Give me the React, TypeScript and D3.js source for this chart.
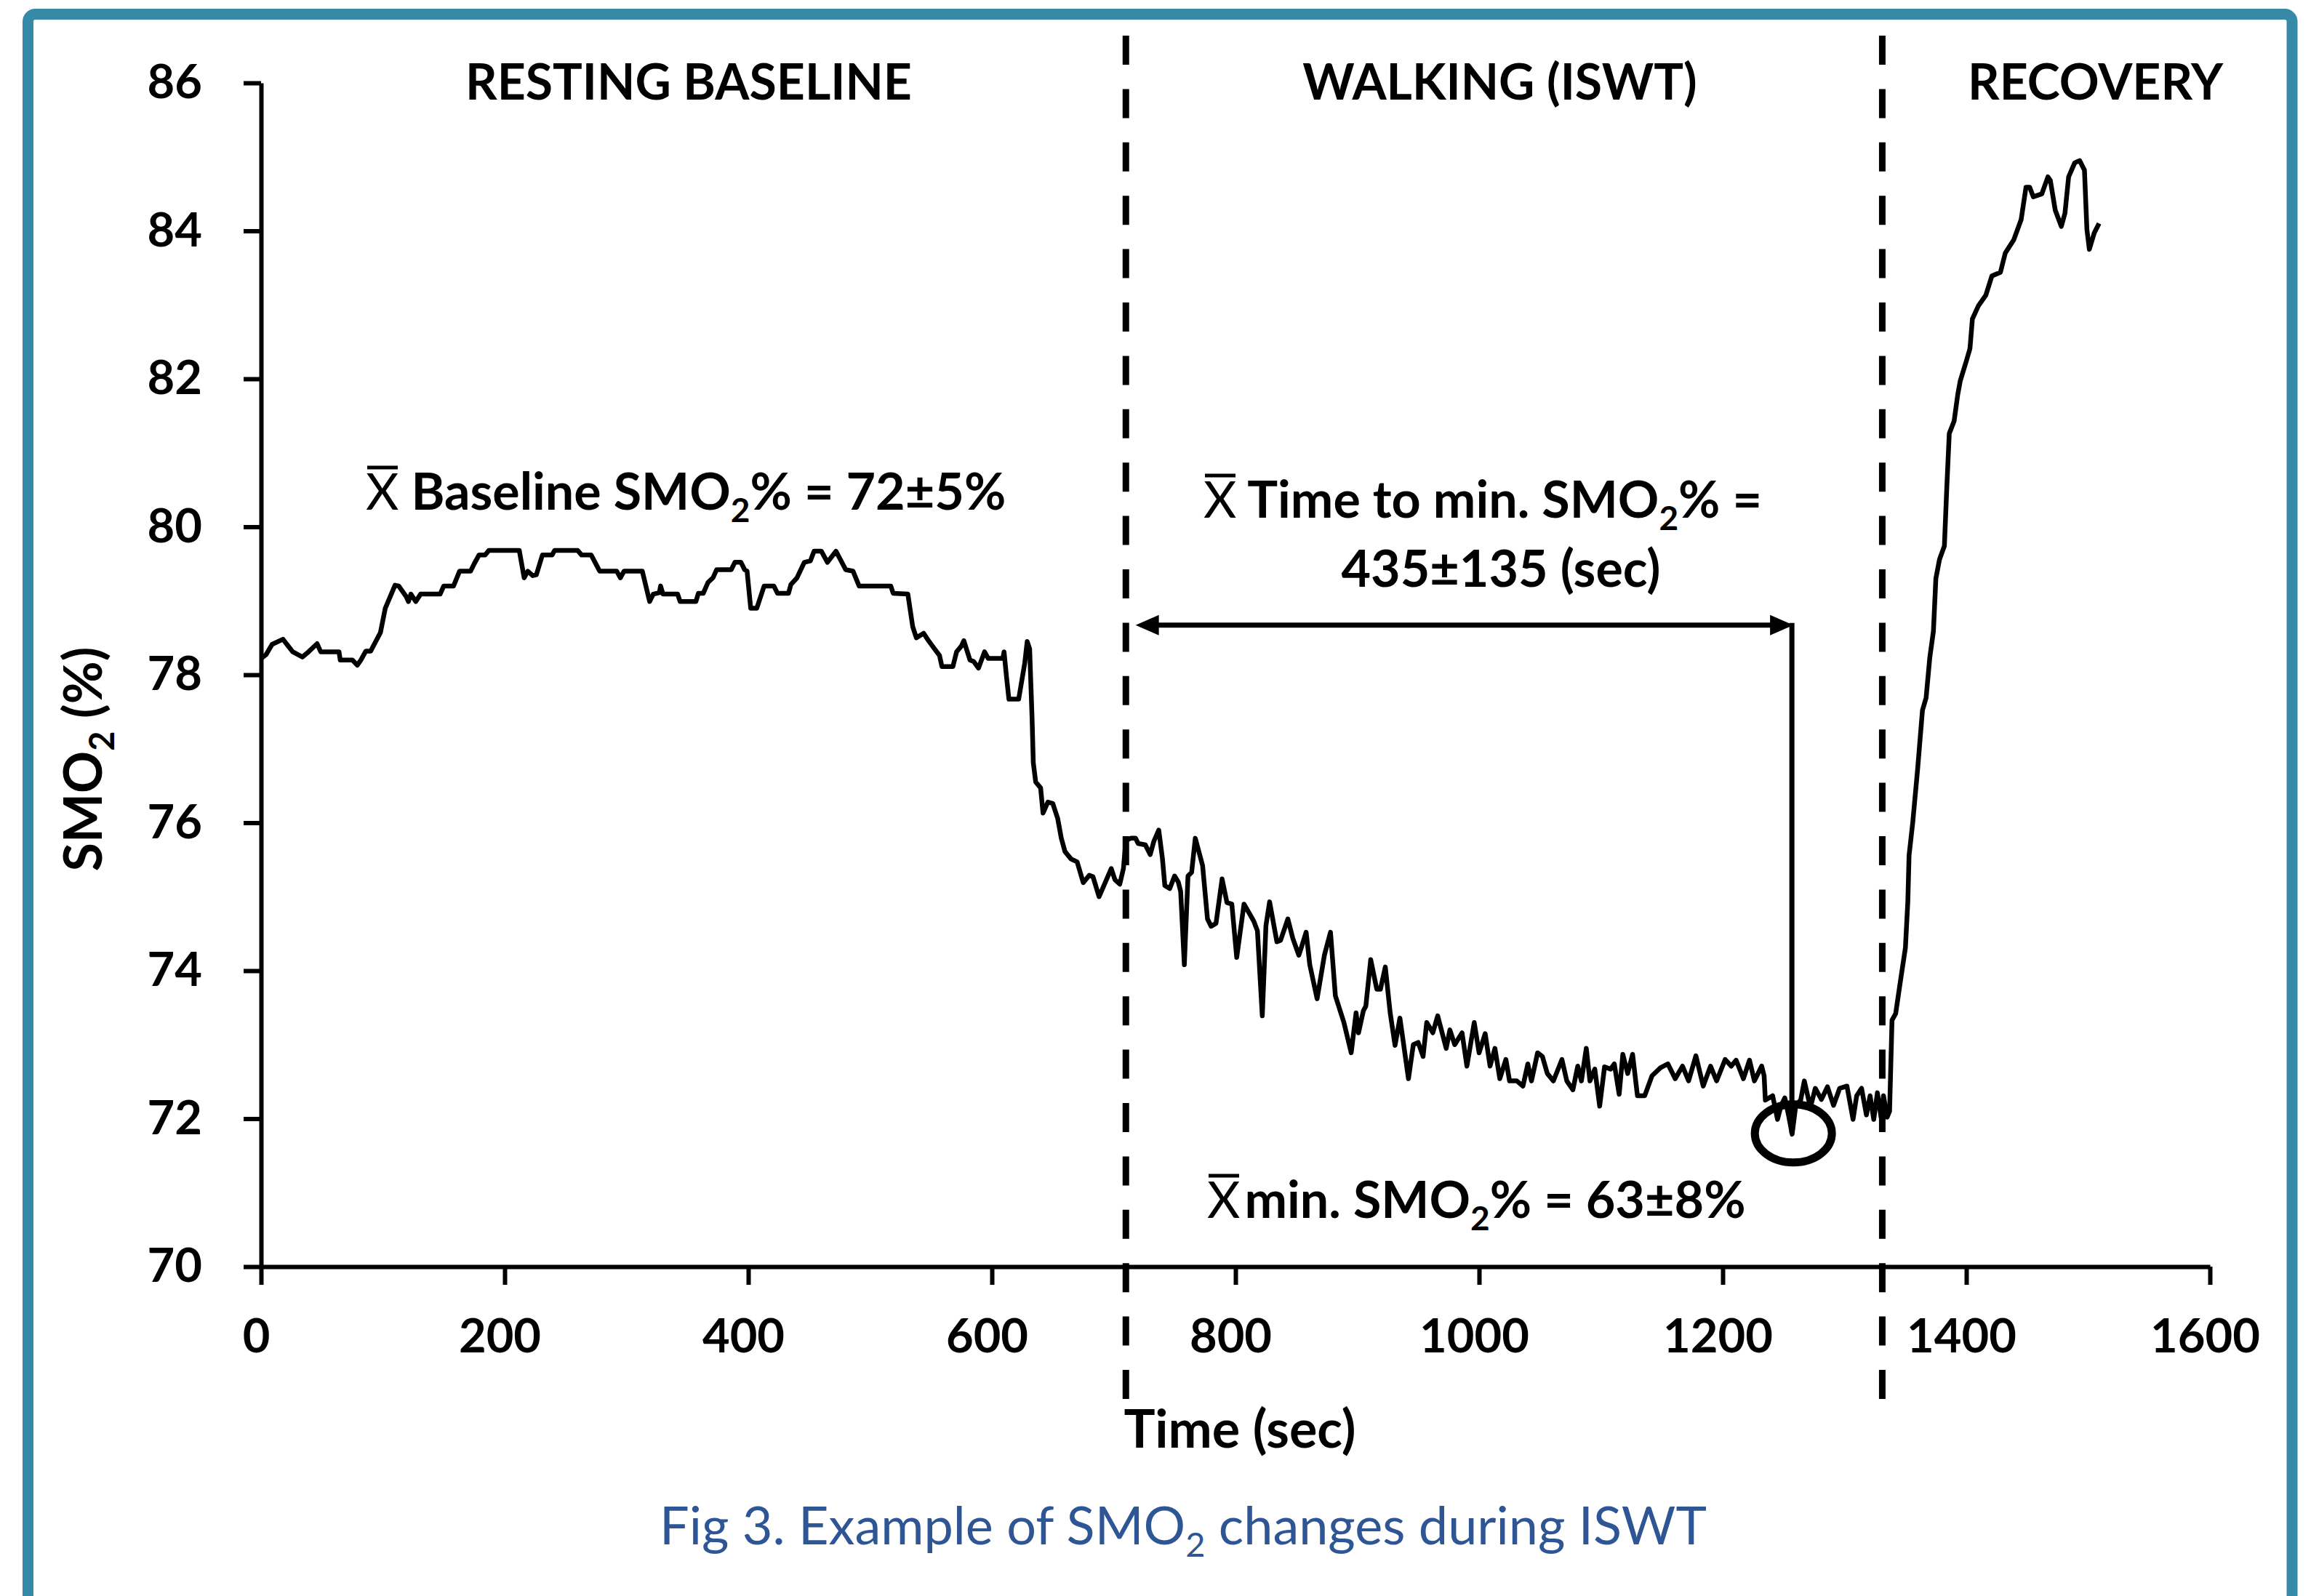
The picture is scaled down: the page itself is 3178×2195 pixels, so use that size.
import React, { useEffect, useRef } from 'react'
import * as d3 from 'd3'

// SmO2 trace: time (sec) and SmO2 (%)
const restTime = [0, 4, 9, 18, 26, 34, 39, 46, 49, 64, 65, 75, 79, 82, 86, 90, 98, 102, 110, 113, 119, 121, 123, 127, 131, 147, 150, 158, 163, 172, 175, 179, 184, 187, 212, 216, 219, 223, 226, 231, 239, 241, 260, 263, 271, 278, 292, 295, 298, 313, 319, 322, 327, 328, 330, 342, 344, 357, 359, 363, 367, 371, 374, 386, 389, 394, 397, 399, 402, 407, 413, 421, 424, 433, 435, 440, 446, 451, 454, 460, 465, 472, 480, 486, 491, 517, 519, 531, 535, 538, 542, 544, 548, 552, 557, 559, 568, 571, 575, 577, 582, 585, 589, 594, 597, 609, 610, 612, 614, 622, 627, 629, 631, 633, 634, 636, 640, 642, 646, 650, 654, 657, 660, 665, 670, 675, 680, 683, 688, 693, 698, 701, 705, 708]
const restSmo2 = [78.22, 78.27, 78.41, 78.48, 78.31, 78.24, 78.31, 78.42, 78.31, 78.31, 78.2, 78.2, 78.13, 78.2, 78.32, 78.32, 78.57, 78.9, 79.21, 79.2, 79.06, 78.99, 79.09, 78.99, 79.09, 79.09, 79.2, 79.2, 79.4, 79.4, 79.5, 79.62, 79.62, 79.68, 79.68, 79.31, 79.4, 79.34, 79.35, 79.62, 79.62, 79.68, 79.68, 79.62, 79.62, 79.4, 79.4, 79.31, 79.4, 79.4, 78.99, 79.09, 79.11, 79.2, 79.09, 79.09, 78.99, 78.99, 79.1, 79.1, 79.25, 79.31, 79.42, 79.42, 79.52, 79.52, 79.42, 79.4, 78.9, 78.9, 79.2, 79.2, 79.1, 79.1, 79.22, 79.31, 79.52, 79.54, 79.67, 79.67, 79.52, 79.67, 79.42, 79.4, 79.2, 79.2, 79.1, 79.09, 78.65, 78.5, 78.54, 78.56, 78.46, 78.37, 78.26, 78.11, 78.11, 78.31, 78.39, 78.46, 78.2, 78.18, 78.09, 78.31, 78.22, 78.22, 78.31, 77.97, 77.67, 77.67, 78.16, 78.45, 78.35, 77.41, 76.81, 76.55, 76.47, 76.13, 76.28, 76.26, 76.06, 75.79, 75.61, 75.51, 75.47, 75.19, 75.29, 75.27, 75.0, 75.19, 75.38, 75.23, 75.17, 75.38]

const walkTime = [710, 714, 718, 720, 726, 730, 733, 737, 740, 742, 746, 750, 753, 755, 758, 761, 764, 767, 773, 777, 780, 784, 789, 793, 797, 801, 807, 815, 818, 822, 825, 828, 834, 837, 843, 847, 852, 854, 858, 861, 867, 873, 878, 882, 889, 895, 899, 901, 905, 907, 911, 916, 919, 923, 927, 931, 935, 942, 946, 950, 954, 957, 962, 966, 973, 976, 980, 986, 990, 996, 1000, 1005, 1009, 1013, 1017, 1022, 1025, 1031, 1036, 1040, 1043, 1048, 1052, 1056, 1061, 1068, 1072, 1077, 1081, 1084, 1088, 1091, 1095, 1099, 1103, 1108, 1111, 1115, 1118, 1122, 1126, 1130, 1136, 1142, 1149, 1155, 1161, 1167, 1172, 1178, 1184, 1190, 1195, 1202, 1207, 1211, 1217, 1222, 1226, 1232, 1234, 1235, 1241, 1245, 1248, 1251, 1254, 1257, 1260, 1264, 1267, 1272, 1276, 1281, 1286, 1291, 1296, 1302, 1307, 1310, 1314, 1318, 1321, 1324, 1327, 1330]
const walkSmo2 = [75.76, 75.79, 75.79, 75.72, 75.7, 75.57, 75.75, 75.9, 75.52, 75.15, 75.11, 75.28, 75.2, 75.07, 74.08, 75.28, 75.33, 75.79, 75.42, 74.7, 74.6, 74.64, 75.24, 74.92, 74.9, 74.18, 74.9, 74.67, 74.54, 73.39, 74.61, 74.93, 74.39, 74.41, 74.7, 74.44, 74.21, 74.31, 74.52, 74.08, 73.62, 74.21, 74.52, 73.66, 73.3, 72.89, 73.43, 73.16, 73.46, 73.52, 74.15, 73.75, 73.75, 74.05, 73.43, 72.99, 73.36, 72.54, 73.0, 73.03, 72.84, 73.3, 73.16, 73.39, 72.95, 73.2, 73.0, 73.16, 72.71, 73.3, 72.89, 73.15, 72.71, 72.95, 72.54, 72.8, 72.51, 72.51, 72.44, 72.74, 72.51, 72.89, 72.84, 72.61, 72.51, 72.8, 72.51, 72.39, 72.71, 72.51, 72.95, 72.51, 72.67, 72.17, 72.7, 72.67, 72.74, 72.33, 72.87, 72.61, 72.87, 72.31, 72.31, 72.58, 72.69, 72.74, 72.54, 72.71, 72.51, 72.85, 72.44, 72.71, 72.51, 72.8, 72.71, 72.79, 72.54, 72.79, 72.51, 72.71, 72.58, 72.25, 72.31, 71.99, 72.18, 72.28, 72.05, 71.79, 72.18, 72.25, 72.51, 72.15, 72.41, 72.26, 72.43, 72.18, 72.41, 72.44, 71.99, 72.31, 72.41, 72.05, 72.31, 71.99, 72.35, 72.02]

const recTime = [1332, 1335, 1337, 1339, 1342, 1346, 1350, 1352, 1353, 1356, 1360, 1364, 1367, 1370, 1373, 1375, 1378, 1382, 1384, 1386, 1390, 1393, 1395, 1400, 1403, 1405, 1410, 1416, 1421, 1428, 1432, 1439, 1445, 1449, 1452, 1455, 1462, 1467, 1469, 1473, 1478, 1481, 1484, 1489, 1493, 1497, 1499, 1501, 1505, 1509]
const recSmo2 = [72.31, 72.02, 72.1, 73.33, 73.42, 73.87, 74.31, 74.94, 75.56, 76.0, 76.72, 77.52, 77.69, 78.23, 78.59, 79.3, 79.56, 79.74, 80.54, 81.26, 81.43, 81.79, 81.97, 82.24, 82.41, 82.81, 82.99, 83.13, 83.39, 83.44, 83.7, 83.88, 84.15, 84.59, 84.59, 84.46, 84.5, 84.73, 84.68, 84.28, 84.06, 84.24, 84.73, 84.92, 84.95, 84.82, 84.02, 83.75, 83.97, 84.1]

const xTicks = [0, 200, 400, 600, 800, 1000, 1200, 1400, 1600]
const yTicks = [70, 72, 74, 76, 78, 80, 82, 84, 86]

const phaseEdges = [710, 1331]
const phaseNames = ['RESTING BASELINE', 'WALKING (ISWT)', 'RECOVERY']
const minPoint = { t: 1258, v: 71.8 }
const arrowFrom = 718
const arrowLevel = 78.67

// layout
const W = 3178
const H = 2195
const left = 359
const right = 3039
const top = 114
const bottom = 1742
const phaseLabelAt = [351, 1017, 1506]
const font = 'Lato, "Open Sans", sans-serif'
const frameColor = '#368aa8'
const captionColor = '#2e5594'
const noteSize = 70

export default function App() {
  const xAxisRef = useRef<SVGGElement>(null)
  const yAxisRef = useRef<SVGGElement>(null)

  const x = d3.scaleLinear().domain([0, 1600]).range([left, right])
  const y = d3.scaleLinear().domain([70, 86]).range([bottom, top])

  const series = [
    ...d3.zip(restTime, restSmo2),
    ...d3.zip(walkTime, walkSmo2),
    ...d3.zip(recTime, recSmo2),
  ]
  const line = d3.line<number[]>().x(d => x(d[0])).y(d => y(d[1]))

  useEffect(() => {
    const gx = d3.select(xAxisRef.current!)
    gx.call(
      d3.axisBottom(x).tickValues(xTicks).tickFormat(d3.format('d')).tickSize(25).tickSizeOuter(0).tickPadding(47)
    )
    gx.attr('font-family', font).attr('font-size', 65).attr('font-weight', 700)
    gx.selectAll('.domain, .tick line').attr('stroke', '#000').attr('stroke-width', 6)
    gx.selectAll('.tick text').attr('dx', -7).attr('fill', '#000')

    const gy = d3.select(yAxisRef.current!)
    gy.call(d3.axisLeft(y).tickValues(yTicks).tickSize(24).tickSizeOuter(0).tickPadding(57))
    gy.attr('font-family', font).attr('font-size', 65).attr('font-weight', 700)
    gy.selectAll('.domain, .tick line').attr('stroke', '#000').attr('stroke-width', 6)
    gy.selectAll('.tick text').attr('fill', '#000')
  }, [])

  const ax0 = x(arrowFrom)
  const ax1 = x(minPoint.t)
  const ay = y(arrowLevel)
  const head = 32
  const half = 14

  const xbar = (x0: number, base: number) => (
    <line x1={x0 + 2} x2={x0 + 44} y1={base - 58} y2={base - 58} stroke="#000" strokeWidth={5} />
  )
  const sub = { fontSize: 46, dy: 17 }

  return (
    <svg width={W} height={H} style={{ position: 'absolute', left: 0, top: 0, background: '#fff' }} fontFamily={font}>
      <rect x={38.5} y={19.5} width={3113.5} height={2400} rx={10} fill="#fff" stroke={frameColor} strokeWidth={15} />

      {phaseEdges.map(t => (
        <line key={t} x1={x(t)} x2={x(t)} y1={49} y2={1926} stroke="#000" strokeWidth={9} strokeDasharray="40 33.4" />
      ))}

      <g ref={xAxisRef} transform={`translate(0,${bottom})`} />
      <g ref={yAxisRef} transform={`translate(${left},0)`} />

      <path d={line(series) ?? ''} fill="none" stroke="#000" strokeWidth={6.5} strokeLinejoin="round" />

      {phaseNames.map((name, i) => (
        <text key={name} x={x(phaseLabelAt[i])} y={137} textAnchor="middle" fontSize={68} fontWeight={700}>
          {name}
        </text>
      ))}

      {/* time-to-minimum arrow */}
      <line x1={ax0 + head - 4} x2={ax1 - head + 4} y1={ay} y2={ay} stroke="#000" strokeWidth={7} />
      <polygon points={`${ax0},${ay} ${ax0 + head},${ay - half} ${ax0 + head},${ay + half}`} fill="#000" />
      <polygon points={`${ax1},${ay} ${ax1 - head},${ay - half} ${ax1 - head},${ay + half}`} fill="#000" />
      <line x1={ax1 - 2} x2={ax1 - 2} y1={ay - 3} y2={y(minPoint.v)} stroke="#000" strokeWidth={7} />
      <ellipse cx={x(minPoint.t)} cy={y(minPoint.v)} rx={53} ry={40} fill="none" stroke="#000" strokeWidth={11} />

      {/* annotations */}
      {xbar(503, 701)}
      <text x={503} y={701} fontSize={noteSize} fontWeight={700}>
        <tspan fontWeight={400}>X</tspan>
        <tspan>{' Baseline SMO'}</tspan>
        <tspan fontSize={sub.fontSize} dy={sub.dy}>2</tspan>
        <tspan dy={-sub.dy}>{'% = 72±5%'}</tspan>
      </text>

      {xbar(1655, 712)}
      <text x={1655} y={712} fontSize={noteSize} fontWeight={700}>
        <tspan fontWeight={400}>X</tspan>
        <tspan>{' Time to min. SMO'}</tspan>
        <tspan fontSize={sub.fontSize} dy={sub.dy}>2</tspan>
        <tspan dy={-sub.dy}>{'% ='}</tspan>
      </text>
      <text x={2064} y={807} fontSize={noteSize} fontWeight={700} textAnchor="middle">
        435±135 (sec)
      </text>

      {xbar(1660, 1675)}
      <text x={1660} y={1675} fontSize={noteSize} fontWeight={700}>
        <tspan fontWeight={400}>X</tspan>
        <tspan dx={6}>{'min. SMO'}</tspan>
        <tspan fontSize={sub.fontSize} dy={sub.dy}>2</tspan>
        <tspan dy={-sub.dy}>{'% = 63±8%'}</tspan>
      </text>

      {/* axis titles */}
      <text x={1705} y={1991} fontSize={72} fontWeight={700} textAnchor="middle">
        Time (sec)
      </text>
      <text transform="translate(140,1044) rotate(-90)" fontSize={72} fontWeight={700} textAnchor="middle">
        <tspan>SMO</tspan>
        <tspan fontSize={47} dy={17}>2</tspan>
        <tspan dy={-17}>{' (%)'}</tspan>
      </text>

      <text x={1627} y={2124} fontSize={72} textAnchor="middle" fill={captionColor}>
        <tspan>Fig 3. Example of SMO</tspan>
        <tspan fontSize={47} dy={17}>2</tspan>
        <tspan dy={-17}>{' changes during ISWT'}</tspan>
      </text>
    </svg>
  )
}
